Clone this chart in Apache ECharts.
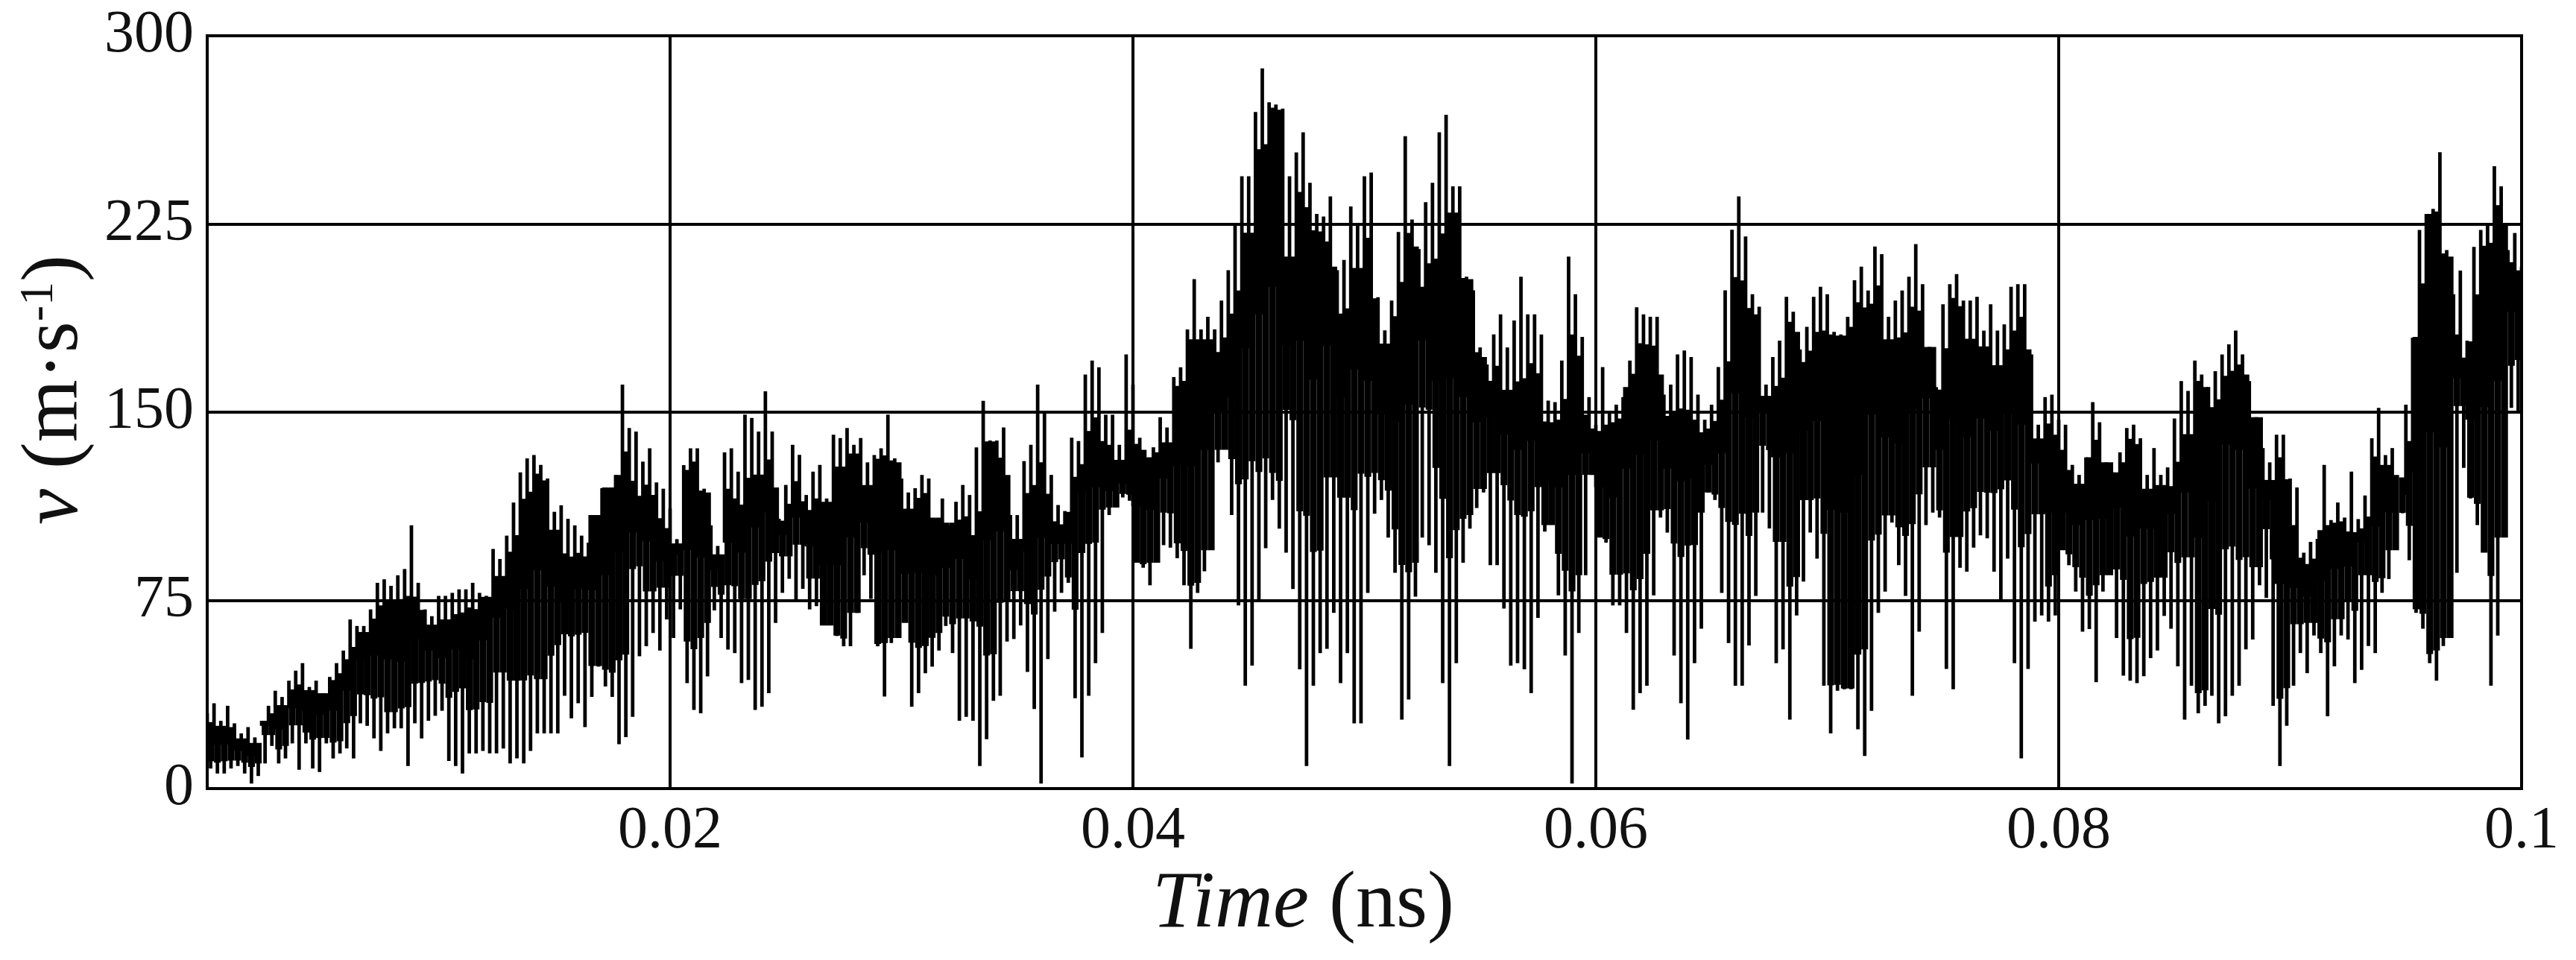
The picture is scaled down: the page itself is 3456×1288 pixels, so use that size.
<!DOCTYPE html>
<html>
<head>
<meta charset="utf-8">
<style>html,body{margin:0;padding:0;background:#fff}#c{width:3456px;height:1288px}</style>
<script src="https://cdn.jsdelivr.net/npm/echarts@6/dist/echarts.min.js"></script>
</head>
<body>
<div id="c"></div>
<script>
const xTicks = {0.02:'0.02',0.04:'0.04',0.06:'0.06',0.08:'0.08',0.1:'0.1'};
const yTicks = [0,75,150,225,300];
const xAxisTitle = '{i|Time} (ns)';
const yAxisTitle = '{i|v} (m·s{s|-1})';
const oscillationPeriod = 0.1/340;

// upper tip of each oscillation, m/s
const vPeak = [30,34,27,33,26,22,24.5,20.4,27,33,
39,36.5,43,47,50,40.5,43,38,44.5,50,
55,67.4,64.8,64.8,71.4,82,83.4,80.8,85,87.5,
104.9,82,71.4,68.7,76.8,76.8,78,79.4,79.4,82,
78,76.8,95.5,91.5,100.8,114,126,131.6,132.9,129,
123.6,110.3,112.9,107.5,104.9,100.8,98,109,119.7,119.7,
125,161,143.7,142.3,130.3,135.6,122,119.5,111.6,99.4,
128.9,135.6,135.6,119.5,104.9,96.7,134,135.6,126.3,149,
147.7,142.3,158.3,142.3,107.5,121,137,133,117,126.3,
129,115.6,141,139.7,143.7,137,139.7,130,132.9,135.6,
149,131.6,123.6,118,119.7,125,123.6,107.5,115.6,105,
114.3,121,117,136,154.5,138.7,138.7,143.9,109,109,
130.5,137,161,150,125,113,110.6,139.8,138.5,165,
170.6,167.9,149,149,137,173,161,139.8,131.8,136,
148,143.9,164,167.9,183,203,183,188,183,194.5,
206.6,225,244,244,269.6,287,273.5,272.6,271,244,
253.5,261.5,241.4,229,228,236,206.6,210.7,232,225,
244,245.5,195.8,182.6,194.5,221.8,260,226.8,215,233.7,
241.4,261.5,268.5,240,240,204,198.6,175.8,169,181,
189,175.8,186.5,204,189,189,181,154.6,154,170.6,
212,197,180,156,145,168,150,153,156,170.6,
191.8,189,188,188,157,161,173,174.6,172,157,
147,153,168,198.6,222.7,236,220,197,192,161,
172,178.5,196,190,175,184,196,200,197,182,
181,188,202.6,208,198.5,216,213,188,194.5,198.5,
204,217,201,176,160,193,201,205,194.5,194.5,
196,182.5,193,182.5,185,200,201,201,173,145,
156,157,147,145,129,125,132,154,146,130,
126,134,143.7,145,139.6,125,135.7,125,128,147.5,
162.4,158.5,170.6,165,160,166.3,173,177,182.5,173,
162.4,148,135.7,130,141,141,123.6,120,94,98.3,
99.5,129,107,114,108,126.3,107.4,116.8,139.6,151.7,
132.9,135.7,108.9,153,179.7,222.6,229,231,253.6,214.6,
197,206.4,178.5,215.9,222.6,225,248,240,214.6,221.4,208];

// lower tip of each oscillation, m/s
const vTrough = [8,6,6,8,9,6,2,5,10,17,
10,12,18,7.5,18,8,6.6,18,12,14,
16,12,26,25,20,15,22,24,24,9,
26,20,27,29,31,11,9,6,14,14,
15,14,14,16,10,12,10,15,22,22,
22,22,37,28,34,24.5,36.5,48.6,40.7,36.5,
17.7,20.5,28.6,52.7,56.7,62,55,67.4,60,71.4,
42,31.3,30,44.7,71,60,55.4,54,42,43.3,
31.3,32.6,38,66,78,83.6,75,79.6,71.4,72.7,
67.4,66,60.8,56.7,56.7,70,85,75.6,56.7,36.7,
58,60.8,72.7,32.6,38,46,48.6,55,64.8,54,
27,28.6,27,9,19.7,35,37,58.6,59.6,65,
46.5,31.7,2,51.6,70.5,78,82,36,12.4,37,
50,62,109,113,116,114.7,97,88,81,96,
97,96,91.8,81,55.7,78,86.6,101,130,145,
109,73,41,49,75,95.8,115,103.6,94,79.5,
47.5,9,41,54,55.7,70,42,54,26,26,
78,109.5,115,100,86,27.5,35.5,76.5,100,97,
86,42,9,50,90,103.6,111.8,118,89,89,
71.7,49,50,47.5,38,68,102.4,106,77,53,
2,62,85,125,105,98,73,73,62,31.4,
38,41,77,108,102,53,34,19.5,50,63.7,
118,115,78,58,41,41,57,76.8,110,103.7,
50,55.5,27.5,69,82.5,102,91.6,41,22,39,
39.6,39.6,23.6,13,31,70,78.5,106,89,76.8,
37,62.5,105,110,108,47.7,39.6,88,86.4,96,
100.9,99.7,86.4,75,91.6,50,12,47.7,66.5,69,
66.5,69,95.5,89,78.5,62.5,63.6,42.4,78.5,86.7,
60,45,43,42,44.8,52,55,68.8,63.7,48.7,
27.5,41,30,33,37,26,28.8,37,41,55.5,
59.4,81,76,33,9,25,41,54,46,61,
54,28.8,48.7,61,59.4,42,47.3,56.8,54,78,
83.5,98.5,109.7,91,70,63.7,50,43,56.8,71.7,
86,127.8,115.6,105,107,41,61,103.8,151.7,150,160];

// solid band over every two oscillations, m/s
const bandTop = [23,23,18,16,27,30,36,38,38,42,48,60,64,70,66,71,62,58,61,65,
76,78,88,105,122,96,80,87,109,120,125,103,112,96,96,125,118,90,105,100,
108,120,106,112,105,113,117,130,112,130,130,105,112,108,106,100,85,138,125,90,
105,110,100,110,120,128,125,125,135,132,132,157,175,175,165,172,199,240,270,180,
222,216,208,172,190,195,172,182,216,185,181,219,203,172,156,142,138,150,138,140,
165,142,140,142,160,166,165,140,130,137,140,142,185,186,152,149,182,165,168,180,
180,185,188,170,165,180,176,158,190,164,170,155,165,175,134,135,125,118,132,130,
126,135,114,117,113,124,160,144,156,165,148,116,123,90,85,103,105,97,100,125,
125,124,180,229,212,165,178,210,225,205,208];
const bandBottom = [12,12,12,10,23,17,28,24,21,20,30,42,42,33,35,48,48,46,50,38,
42,58,55,54,52,65,71,72,49,50,63,101,85,85,90,65,66,84,91,88,
100,100,96,104,88,65,61,70,100,58,60,66,60,62,70,83,82,60,80,84,
84,90,95,85,116,112,112,118,90,90,115,100,82,95,135,140,152,138,130,173,
135,110,145,140,144,130,126,110,90,172,144,108,109,120,140,140,132,127,105,100,
85,125,100,90,95,100,112,115,115,110,118,125,130,110,147,115,85,120,125,42,
40,65,110,110,110,122,135,112,105,116,125,130,135,115,125,85,95,92,82,85,
98,66,93,90,106,112,40,85,118,105,91,114,40,70,68,62,70,80,96,84,
95,110,72,55,60,162,116,94,100,175,180];

const T = oscillationPeriod;
const densifyTop = 0.5, densifyBottom = 0.28;
const jOf = i => Math.min(Math.floor(i / 2), bandTop.length - 1);
const mid = i => (bandTop[jOf(i)] + bandBottom[jOf(i)]) / 2;
const bandData = vPeak.map((p, i) => {
  const pn = vPeak[Math.min(i + 1, vPeak.length - 1)];
  const tn = vTrough[Math.min(i + 1, vTrough.length - 1)];
  const B = bandTop[jOf(i)], b = bandBottom[jOf(i)];
  const outerTop = Math.min(p, pn), outerBot = Math.max(vTrough[i], tn);
  return [i * T + T / 2, b - densifyBottom * Math.max(0, b - outerBot), B + densifyTop * Math.max(0, outerTop - B), T];
});
const upData = vPeak.map((v, i) => [i * T, Math.min(mid(i), v), v, T * 0.52]);
const downData = vTrough.map((v, i) => [i * T + T / 2, v, Math.max(mid(i), v), T * 0.52]);

function column(params, api) {
  const t = api.value(0), span = api.value(3);
  const a = api.coord([t - span / 2, api.value(2)]);
  const b = api.coord([t + span / 2, api.value(1)]);
  return {type: 'rect', shape: {x: a[0], y: a[1], width: b[0] - a[0], height: b[1] - a[1]},
          style: {fill: '#000'}};
}
const dim = {x: 0, y: [1, 2]};
const serif = '"Liberation Serif","Times New Roman",serif';
const chart = echarts.init(document.getElementById('c'), null, {renderer: 'canvas'});
chart.setOption({
  animation: false,
  backgroundColor: '#fff',
  grid: {left: 278, right: 73, top: 48, bottom: 230, show: true, borderColor: '#000', borderWidth: 4, containLabel: false},
  xAxis: {
    type: 'value', min: 0, max: 0.1, interval: 0.02,
    axisLine: {show: true, onZero: false, lineStyle: {color: '#000', width: 4}},
    axisTick: {show: false},
    splitLine: {show: true, lineStyle: {color: '#000', width: 4}},
    axisLabel: {color: '#111', fontFamily: serif, fontSize: 80, margin: 18, showMinLabel: false, showMaxLabel: true,
      formatter: v => xTicks[+v.toFixed(2)] || ''},
    name: xAxisTitle, nameLocation: 'middle', nameGap: 100,
    nameTextStyle: {color: '#111', fontFamily: serif, fontSize: 108, padding: [0, 164, 0, 0],
      rich: {i: {fontFamily: serif, fontStyle: 'italic', fontSize: 108, color: '#111'}}}
  },
  yAxis: {
    type: 'value', min: 0, max: 300, interval: 75,
    axisLine: {show: true, lineStyle: {color: '#000', width: 4}},
    axisTick: {show: false},
    splitLine: {show: true, lineStyle: {color: '#000', width: 4}},
    axisLabel: {color: '#111', fontFamily: serif, fontSize: 80, margin: 18,
      formatter: v => yTicks.includes(v) ? String(v) : ''},
    name: yAxisTitle, nameLocation: 'middle', nameGap: 146, nameRotate: 90,
    nameTextStyle: {color: '#111', fontFamily: serif, fontSize: 108, padding: [0, 0, 0, 60],
      rich: {i: {fontFamily: serif, fontStyle: 'italic', fontSize: 108, color: '#111'},
             s: {fontFamily: serif, fontSize: 64, color: '#111', verticalAlign: 'top', padding: [0, 0, 36, 0]}}}
  },
  series: [
    {name: 'v band', type: 'custom', renderItem: column, data: bandData, encode: dim, clip: true, silent: true, z: 1},
    {name: 'v peak', type: 'custom', renderItem: column, data: upData, encode: dim, clip: true, silent: true, z: 1},
    {name: 'v trough', type: 'custom', renderItem: column, data: downData, encode: dim, clip: true, silent: true, z: 1}
  ]
});
</script>
</body>
</html>
